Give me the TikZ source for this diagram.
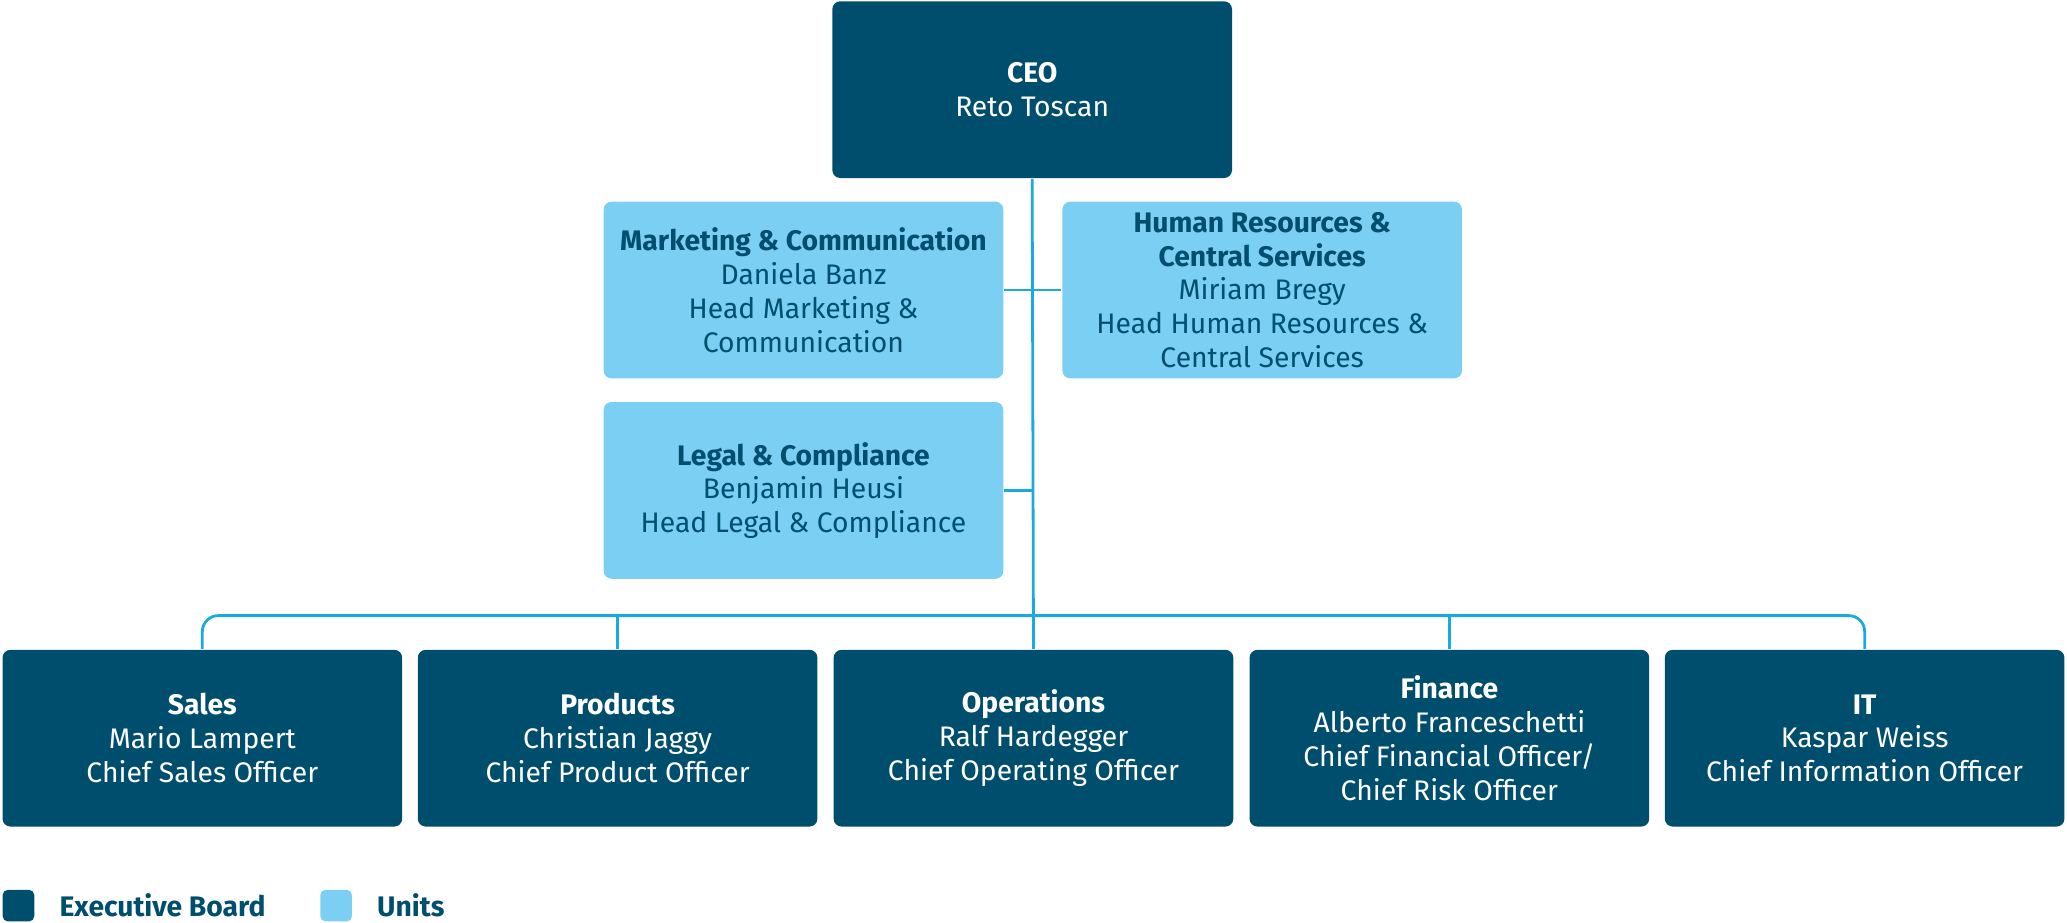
\documentclass[tikz,border=0pt]{standalone}
\usepackage{fontspec}
\setmainfont{Fira Sans}
\usetikzlibrary{positioning}
\definecolor{board}{HTML}{004E6D}
\definecolor{unit}{HTML}{7BCFF3}
\definecolor{link}{HTML}{1BA9E0}
\tikzset{
  base/.style={rounded corners=0.06cm, minimum width=3.03cm, minimum height=1.34cm, align=center, inner sep=1pt, font=\fontsize{6.1}{7.3}\selectfont},
  exec/.style={base, fill=board, text=white},
  unitbox/.style={base, fill=unit, text=board},
  conn/.style={draw=link, line width=0.6pt}
}
\begin{document}
\begin{tikzpicture}[x=0.01cm,y=-0.01cm]
\useasboundingbox (0,0) rectangle (1568,700);

% top
\node[exec] (ceo) at (783,68) {\textbf{CEO}\\Reto Toscan};

% units
\node[unitbox] (mkt) at (609.5,220) {\textbf{Marketing \& Communication}\\Daniela Banz\\Head Marketing \&\\Communication};
\node[unitbox] (hr) at (957.5,220) {\textbf{Human Resources \&}\\\textbf{Central Services}\\Miriam Bregy\\Head Human Resources \&\\Central Services};
\node[unitbox] (legal) at (609.5,372) {\textbf{Legal \& Compliance}\\Benjamin Heusi\\Head Legal \& Compliance};

% executive board
\node[exec] (sales) at (153.5,560) {\textbf{Sales}\\Mario Lampert\\Chief Sales Officer};
\node[exec] (prod) at (468.5,560) {\textbf{Products}\\Christian Jaggy\\Chief Product Officer};
\node[exec] (ops) at (784,560) {\textbf{Operations}\\Ralf Hardegger\\Chief Operating Officer};
\node[exec] (fin) at (1099.5,560) {\textbf{Finance}\\Alberto Franceschetti\\Chief Financial Officer/\\Chief Risk Officer};
\node[exec] (it) at (1414.5,560) {\textbf{IT}\\Kaspar Weiss\\Chief Information Officer};

% connectors
\coordinate (bar) at (783,467);
\draw[conn] (ceo.south) -- (ops.north);
\draw[conn] (mkt.east) -- (hr.west);
\draw[conn] (legal.east) -- (legal.east -| ceo.south);
\draw[conn, rounded corners=0.12cm] (sales.north) |- (bar) -| (it.north);
\draw[conn] (prod.north) -- (prod.north |- bar);
\draw[conn] (fin.north) -- (fin.north |- bar);

% legend
\node[fill=board, rounded corners=0.04cm, minimum size=0.24cm, inner sep=0] (lgexec) at (14,687) {};
\node[right=0.06cm of lgexec, text=board, font=\fontsize{6.1}{7.3}\selectfont\bfseries] (lgexect) {Executive Board};
\node[fill=unit, rounded corners=0.04cm, minimum size=0.24cm, inner sep=0] (lgunit) at (255,687) {};
\node[right=0.06cm of lgunit, text=board, font=\fontsize{6.1}{7.3}\selectfont\bfseries] (lgunitt) {Units};
\end{tikzpicture}
\end{document}
